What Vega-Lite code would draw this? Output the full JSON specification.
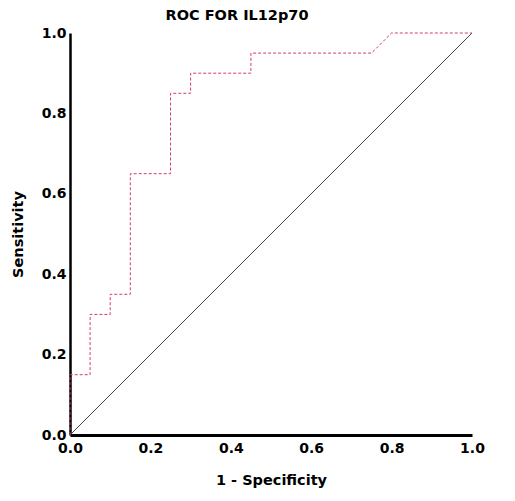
{
  "$schema": "https://vega.github.io/schema/vega-lite/v6.json",
  "width": 402,
  "height": 402,
  "autosize": {"type": "none"},
  "padding": {"left": 70, "top": 33, "right": 43, "bottom": 66},
  "background": "white",
  "title": {"text": "ROC FOR IL12p70", "font": "DejaVu Sans", "fontSize": 14.5, "fontWeight": "bold", "color": "black", "anchor": "middle", "dx": -34, "offset": 3},
  "config": {
    "view": {"stroke": null},
    "axis": {"grid": false, "ticks": false, "labelFlush": false, "labelOverlap": false, "domainColor": "black", "labelFont": "DejaVu Sans", "labelFontSize": 14, "labelFontWeight": "bold", "labelColor": "black", "titleFont": "DejaVu Sans", "titleFontSize": 14.5, "titleFontWeight": "bold", "titleColor": "black"}
  },
  "datasets": {
    "roc": [
      {"i": 0, "fpr": 0.0, "tpr": 0.0},
      {"i": 1, "fpr": 0.0, "tpr": 0.15},
      {"i": 2, "fpr": 0.05, "tpr": 0.15},
      {"i": 3, "fpr": 0.05, "tpr": 0.30},
      {"i": 4, "fpr": 0.10, "tpr": 0.30},
      {"i": 5, "fpr": 0.10, "tpr": 0.35},
      {"i": 6, "fpr": 0.15, "tpr": 0.35},
      {"i": 7, "fpr": 0.15, "tpr": 0.65},
      {"i": 8, "fpr": 0.25, "tpr": 0.65},
      {"i": 9, "fpr": 0.25, "tpr": 0.85},
      {"i": 10, "fpr": 0.30, "tpr": 0.85},
      {"i": 11, "fpr": 0.30, "tpr": 0.90},
      {"i": 12, "fpr": 0.45, "tpr": 0.90},
      {"i": 13, "fpr": 0.45, "tpr": 0.95},
      {"i": 14, "fpr": 0.75, "tpr": 0.95},
      {"i": 15, "fpr": 0.80, "tpr": 1.0},
      {"i": 16, "fpr": 1.0, "tpr": 1.0}
    ],
    "diag": [
      {"fpr": 0.0, "tpr": 0.0},
      {"fpr": 1.0, "tpr": 1.0}
    ]
  },
  "layer": [
    {
      "data": {"name": "diag"},
      "mark": {"type": "line", "color": "#444444", "strokeWidth": 1},
      "encoding": {
        "x": {"field": "fpr", "type": "quantitative", "scale": {"domain": [0, 1], "nice": false}, "axis": {"title": "1 - Specificity", "values": [0, 0.2, 0.4, 0.6, 0.8, 1.0], "format": ".1f", "domainWidth": 3, "labelPadding": 6, "titlePadding": 18}},
        "y": {"field": "tpr", "type": "quantitative", "scale": {"domain": [0, 1], "nice": false}, "axis": {"title": "Sensitivity", "values": [0, 0.2, 0.4, 0.6, 0.8, 1.0], "format": ".1f", "domainWidth": 2.5, "labelPadding": 4, "titlePadding": 16}}
      }
    },
    {
      "data": {"name": "roc"},
      "mark": {"type": "line", "color": "#d23c6e", "strokeWidth": 1, "strokeDash": [3, 2]},
      "encoding": {
        "x": {"field": "fpr", "type": "quantitative"},
        "y": {"field": "tpr", "type": "quantitative"},
        "order": {"field": "i", "type": "quantitative"}
      }
    }
  ]
}
